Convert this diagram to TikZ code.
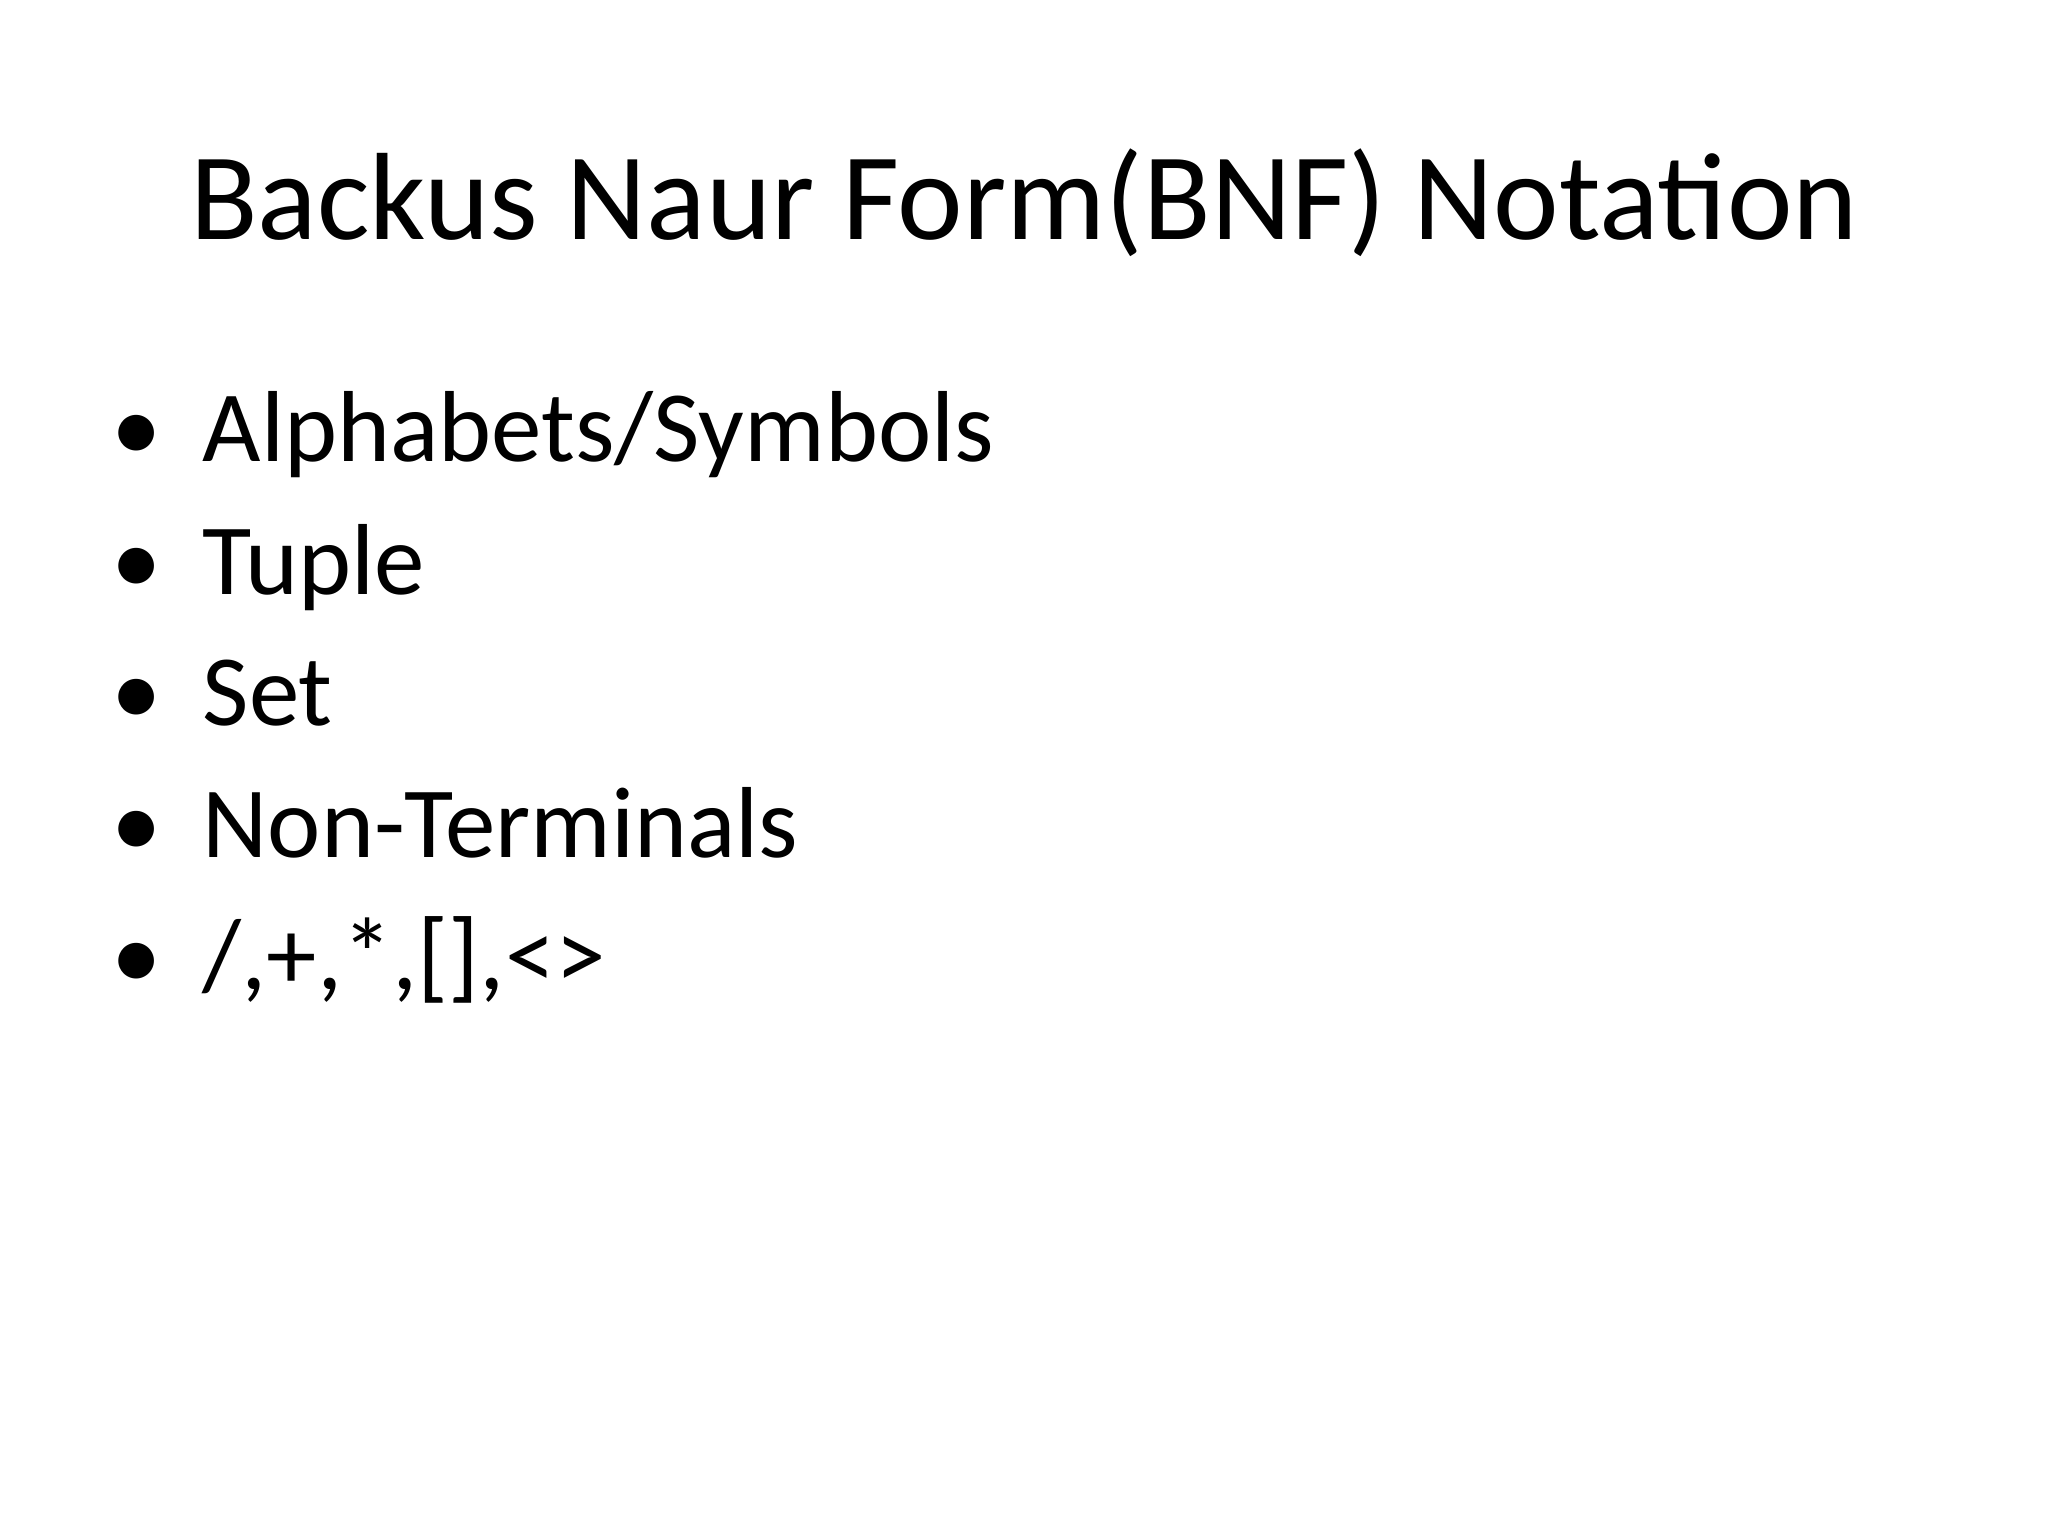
\documentclass[tikz,border=0pt]{standalone}
\usepackage{fontspec}
\setmainfont{Carlito}
\begin{document}
\begin{tikzpicture}[x=0.01cm,y=-0.01cm,
  item/.style={anchor=base west,inner sep=0pt,font=\fontsize{28.7}{34}\selectfont},
  dot/.style={anchor=base,inner sep=0pt,font=\fontsize{28.7}{34}\selectfont}]
\useasboundingbox (0,0) rectangle (2048,1536);
\node[anchor=base,inner sep=0pt,font=\fontsize{35.3}{42}\selectfont] (title) at (1024,239) {Backus Naur Form(BNF) Notation};
\node[dot] (ba) at (137,461) {•}; \node[item] (ta) at (202,461) {Alphabets/Symbols};
\node[dot] (bb) at (137,594) {•}; \node[item] (tb) at (202,594) {Tuple};
\node[dot] (bc) at (137,725) {•}; \node[item] (tc) at (202,725) {Set};
\node[dot] (bd) at (137,857) {•}; \node[item] (td) at (202,857) {Non-Terminals};
\node[dot] (be) at (137,989) {•}; \node[item] (te) at (202,989) {/,+,*,[],<>};
\end{tikzpicture}
\end{document}
